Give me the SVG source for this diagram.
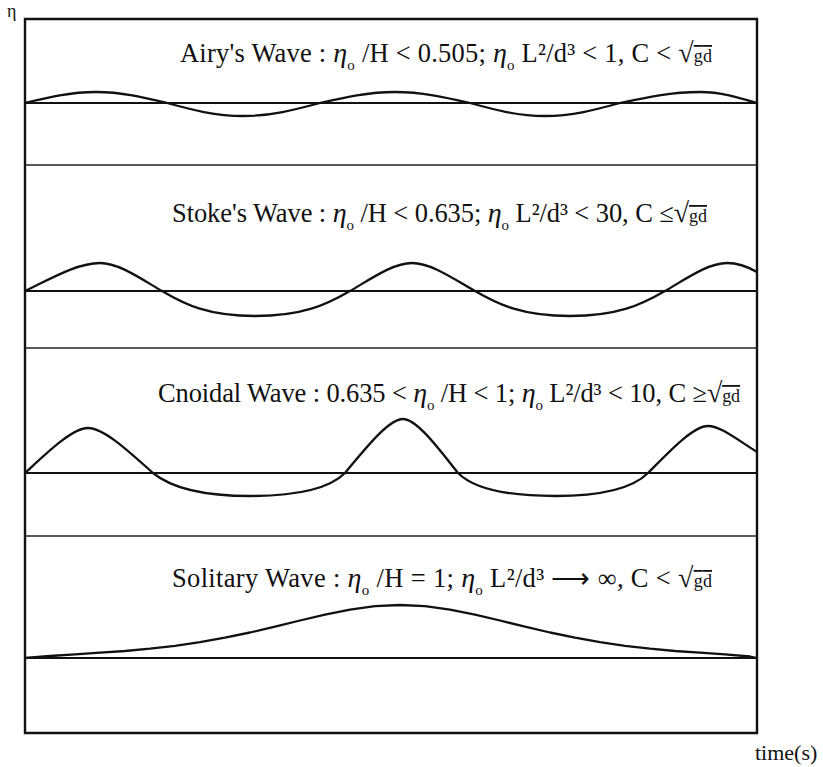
<svg xmlns="http://www.w3.org/2000/svg" width="823" height="767" viewBox="0 0 823 767">
<style>
.frame{fill:none;stroke:#111;stroke-width:2.4}
.sep{fill:none;stroke:#222;stroke-width:1.7}
.base{fill:none;stroke:#111;stroke-width:2}
.wave{fill:none;stroke:#111;stroke-width:2.3;stroke-linejoin:round}
.lbl{font-family:"Liberation Serif","Times New Roman",serif;font-size:26.5px;fill:#111}
.eta{font-style:italic;font-size:28px}
.sub{font-size:15px}
.rad{font-size:18px}
.sq{font-size:28px}
.ax{font-family:"Liberation Serif","Times New Roman",serif;fill:#111}
</style>
<rect x="0" y="0" width="823" height="767" fill="#fff"/>
<g id="axes">
<path class="frame" d="M25,19 H757 V733 H25 Z"/>
<text class="ax" x="7" y="17" font-size="18">η</text>
<text class="ax" x="755" y="760" font-size="22">time(s)</text>
</g>
<g id="separators">
<line class="sep" x1="25" y1="165" x2="757" y2="165"/>
<line class="sep" x1="25" y1="348" x2="757" y2="348"/>
<line class="sep" x1="25" y1="536" x2="757" y2="536"/>
</g>
<g id="airy">
<line class="base" x1="25" y1="103" x2="757" y2="103"/>
<path class="wave" d="M25,103 C48.1,97.4 70.3,92 96,92 C121.7,92 143.9,97.4 167,103 C191.8,109.7 215.5,116 243,116 C270.9,116 294.9,109.7 320,103 C344.5,97.4 367.9,92 395,92 C422.2,92 445.5,97.4 470,103 C494.5,109.7 517.9,116 545,116 C572.2,116 595.5,109.7 620,103 C646.1,97.4 671,92 700,92 C720.6,92 738.4,97.4 757,103"/>
<text class="lbl" x="180" y="62" textLength="532" lengthAdjust="spacing">Airy's Wave : <tspan class="eta">η</tspan><tspan class="sub" dy="8">o</tspan><tspan dy="-8"> /H &lt; 0.505; </tspan><tspan class="eta">η</tspan><tspan class="sub" dy="8">o</tspan><tspan dy="-8"> L²/d³ &lt; 1, C &lt; </tspan><tspan class="sq">√</tspan><tspan class="rad" text-decoration="overline">gd</tspan></text>
</g>
<g id="stokes">
<line class="base" x1="25" y1="291" x2="757" y2="291"/>
<path class="wave" d="M25,291 C51.3,278.4 77.5,263 100,263 C118.6,263 140.3,278.4 162,291 C185.3,304.8 208.5,316 255,316 C302.5,316 326.2,304.8 350,291 C371.7,278.4 393.4,263 412,263 C430.9,263 453,278.4 475,291 C498.8,304.8 522.5,316 570,316 C617.5,316 641.2,304.8 665,291 C686.7,278.4 708.4,263 727,263 C740,263 750,268 757,272"/>
<text class="lbl" x="172" y="222" textLength="535" lengthAdjust="spacing">Stoke's Wave : <tspan class="eta">η</tspan><tspan class="sub" dy="8">o</tspan><tspan dy="-8"> /H &lt; 0.635; </tspan><tspan class="eta">η</tspan><tspan class="sub" dy="8">o</tspan><tspan dy="-8"> L²/d³ &lt; 30, C ≤</tspan><tspan class="sq">√</tspan><tspan class="rad" text-decoration="overline">gd</tspan></text>
</g>
<g id="cnoidal">
<line class="base" x1="25" y1="473" x2="757" y2="473"/>
<path class="wave" d="M25,473 C47,452.8 72.3,428 88,428 C104.3,428 130.2,452.8 153,473 C175,491 212,496 250,496 C290,496 327,491 345,473 C365.3,448.7 388.5,419 403,419 C416.8,419 438.7,448.7 458,473 C476,491 515,496 555,496 C595,496 630,491 648,473 C669,451.9 693,426 708,426 C720,426 735,438 757,452"/>
<text class="lbl" x="158" y="402" textLength="582" lengthAdjust="spacing">Cnoidal Wave : 0.635 &lt; <tspan class="eta">η</tspan><tspan class="sub" dy="8">o</tspan><tspan dy="-8"> /H &lt; 1; </tspan><tspan class="eta">η</tspan><tspan class="sub" dy="8">o</tspan><tspan dy="-8"> L²/d³ &lt; 10, C ≥</tspan><tspan class="sq">√</tspan><tspan class="rad" text-decoration="overline">gd</tspan></text>
</g>
<g id="solitary">
<line class="base" x1="25" y1="658" x2="757" y2="658"/>
<polyline class="wave" points="25,658 50,656 75,654.3 100,652.7 125,651 150,648.7 175,645.8 200,642.2 225,637.7 250,632.5 275,626.7 300,620.5 325,614.6 350,609.6 375,606.2 400,605 425,606.2 450,609.6 475,614.6 500,620.5 525,626.7 550,632.5 575,637.7 600,642.2 625,645.8 650,648.7 675,651 700,652.7 725,654.3 750,656.5 757,658"/>
<text class="lbl" x="172" y="587" textLength="540" lengthAdjust="spacing">Solitary Wave : <tspan class="eta">η</tspan><tspan class="sub" dy="8">o</tspan><tspan dy="-8"> /H = 1; </tspan><tspan class="eta">η</tspan><tspan class="sub" dy="8">o</tspan><tspan dy="-8"> L²/d³ ⟶ ∞, C &lt; </tspan><tspan class="sq">√</tspan><tspan class="rad" text-decoration="overline">gd</tspan></text>
</g>
</svg>
